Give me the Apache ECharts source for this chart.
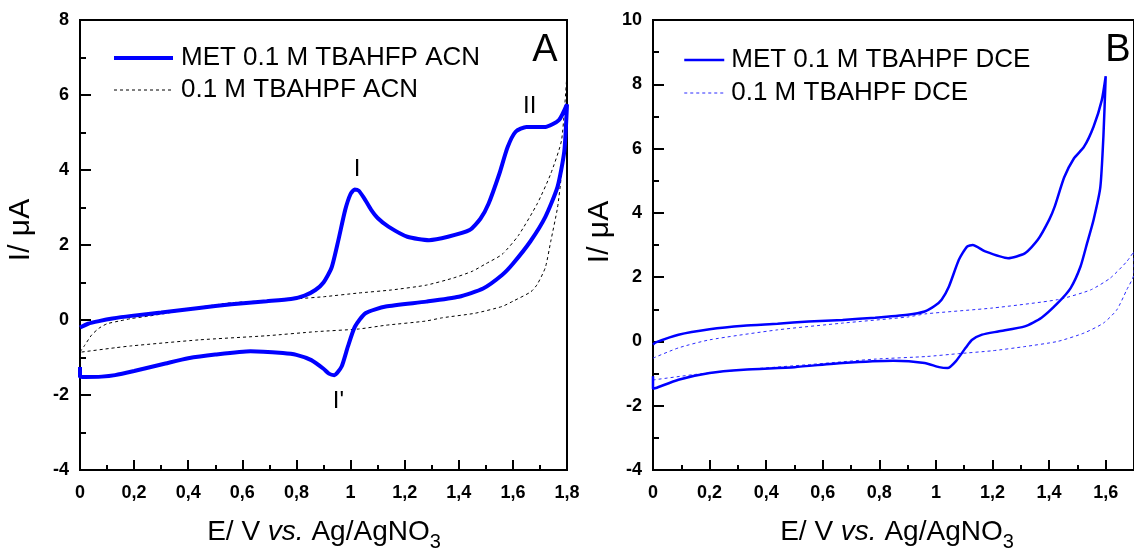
<!DOCTYPE html>
<html><head><meta charset="utf-8">
<script src="https://cdn.jsdelivr.net/npm/echarts@6/dist/echarts.min.js"></script>
<style>html,body{margin:0;padding:0;background:#fff}#c{width:1134px;height:548px}</style>
</head><body><div id="c"></div>
<script>
// ---- data (E / V, I / µA) ----
const metAcn = [[0,-0.2],[0.03,-0.1],[0.07,-0.03],[0.12,0.04],[0.19,0.11],[0.3,0.2],[0.44,0.32],[0.56,0.42],[0.69,0.5],[0.78,0.56],[0.83,0.65],[0.87,0.8],[0.9,1.0],[0.93,1.4],[0.955,2.13],[0.98,2.93],[1.0,3.36],[1.015,3.48],[1.03,3.45],[1.05,3.25],[1.075,2.95],[1.1,2.72],[1.14,2.49],[1.21,2.22],[1.29,2.13],[1.36,2.22],[1.44,2.4],[1.48,2.7],[1.51,3.1],[1.55,3.9],[1.58,4.6],[1.61,5.02],[1.65,5.15],[1.72,5.15],[1.77,5.33],[1.8,5.75],
  [1.79,4.5],[1.765,3.55],[1.72,2.75],[1.665,2.1],[1.6,1.5],[1.56,1.2],[1.49,0.84],[1.4,0.62],[1.28,0.49],[1.13,0.36],[1.055,0.18],[1.016,-0.18],[0.99,-0.71],[0.967,-1.24],[0.94,-1.47],[0.92,-1.43],[0.9,-1.3],[0.855,-1.07],[0.8,-0.93],[0.75,-0.88],[0.63,-0.83],[0.5,-0.92],[0.4,-1.02],[0.316,-1.16],[0.2,-1.36],[0.13,-1.47],[0.08,-1.51],[0.02,-1.52],[0,-1.51],[0,-1.25]];
const blankAcn = [[0,-0.85],[0.015,-0.7],[0.043,-0.4],[0.07,-0.22],[0.1,-0.1],[0.15,-0.02],[0.19,0.04],[0.25,0.1],[0.32,0.18],[0.44,0.34],[0.56,0.46],[0.7,0.52],[0.81,0.57],[0.9,0.62],[1.03,0.72],[1.15,0.8],[1.28,0.93],[1.38,1.12],[1.45,1.3],[1.5,1.5],[1.56,1.75],[1.62,2.25],[1.69,3.1],[1.74,3.9],[1.78,4.8],[1.8,6.6],
  [1.795,5.0],[1.78,3.9],[1.765,3.0],[1.74,2.1],[1.72,1.4],[1.69,0.95],[1.666,0.75],[1.6,0.5],[1.56,0.36],[1.46,0.18],[1.34,0.06],[1.276,-0.03],[1.13,-0.14],[1.03,-0.24],[0.874,-0.31],[0.69,-0.42],[0.44,-0.53],[0.19,-0.69],[0.13,-0.74],[0,-0.86]];
const metDce = [[0,-0.1],[0.01,-0.03],[0.09,0.21],[0.2,0.38],[0.32,0.49],[0.44,0.55],[0.55,0.62],[0.67,0.67],[0.785,0.74],[0.9,0.83],[0.96,0.93],[0.995,1.1],[1.02,1.3],[1.046,1.71],[1.081,2.54],[1.11,2.95],[1.13,3.0],[1.174,2.8],[1.255,2.59],[1.314,2.74],[1.36,3.16],[1.4,3.78],[1.42,4.2],[1.453,5.1],[1.488,5.7],[1.523,6.05],[1.557,6.68],[1.586,7.5],[1.6,8.25],
  [1.592,6.4],[1.581,4.8],[1.557,3.78],[1.534,3.05],[1.511,2.33],[1.476,1.66],[1.43,1.19],[1.372,0.73],[1.314,0.47],[1.22,0.31],[1.163,0.21],[1.128,0.05],[1.105,-0.2],[1.07,-0.62],[1.041,-0.83],[1.011,-0.8],[0.96,-0.67],[0.85,-0.6],[0.67,-0.67],[0.5,-0.8],[0.32,-0.88],[0.2,-0.98],[0.09,-1.19],[0.01,-1.45],[0,-1.47],[0,-1.08]];
const blankDce = [[0,-0.52],[0.09,-0.2],[0.2,0.05],[0.44,0.36],[0.67,0.57],[0.9,0.76],[0.965,0.86],[1.2,1.04],[1.43,1.3],[1.546,1.6],[1.616,1.97],[1.674,2.48],[1.7,2.8],
  [1.7,2.1],[1.674,1.6],[1.639,0.98],[1.592,0.57],[1.523,0.26],[1.43,0.0],[1.314,-0.16],[1.2,-0.29],[1.08,-0.38],[0.965,-0.47],[0.785,-0.55],[0.553,-0.72],[0.32,-0.88],[0.146,-1.03],[0,-1.2]];
const seriesNames = ['MET 0.1 M TBAHFP ACN','0.1 M TBAHPF ACN','MET 0.1 M TBAHPF DCE','0.1 M TBAHPF DCE'];
const peakLabels = [{t:'I',at:[1.024,4.03]},{t:'II',at:[1.662,5.71]},{t:"I'",at:[0.955,-2.16]}];

const FF = "'Liberation Sans', Arial, sans-serif";
const chart = echarts.init(document.getElementById('c'));
const fmtX = v => String(Math.round(v*10)/10).replace('.', ',');
function xAxis(gi, max, hideMax){
  return {type:'value', gridIndex:gi, min:0, max:max, interval:0.2,
    axisLine:{onZero:false, lineStyle:{color:'#000', width:2}},
    axisTick:{inside:true, length:10, lineStyle:{width:2, color:'#000'}},
    minorTick:{show:true, splitNumber:2, length:5, lineStyle:{width:2, color:'#000'}},
    splitLine:{show:false},
    axisLabel:{formatter:fmtX, margin:14, color:'#000', fontSize:18, fontWeight:'bold', fontFamily:FF, showMaxLabel: !hideMax}};
}
function yAxis(gi, min, max){
  return {type:'value', gridIndex:gi, min:min, max:max, interval:2,
    axisLine:{show:true, onZero:false, lineStyle:{color:'#000', width:2}},
    axisTick:{show:true, inside:true, length:11, lineStyle:{width:2, color:'#000'}},
    minorTick:{show:true, splitNumber:2, length:6, lineStyle:{width:2, color:'#000'}},
    splitLine:{show:false},
    axisLabel:{margin:11, color:'#000', fontSize:18, fontWeight:'bold', fontFamily:FF}};
}
const richX = {
  n:{fontSize:28, fontFamily:FF, fill:'#000', lineHeight:40},
  i:{fontSize:28, fontFamily:FF, fontStyle:'italic', fill:'#000', lineHeight:40},
  s:{fontSize:20, fontFamily:FF, fill:'#000', verticalAlign:'bottom', lineHeight:20}
};
const xTitle = '{n|E/ V }{i|vs.}{n| Ag/AgNO}{s|3}';
function txt(x, y, text, size, rot){
  return {type:'text', x:x, y:y, rotation:rot||0, silent:true,
    style:{text:text, fontSize:size, fontFamily:FF, fill:'#000', align:'center', verticalAlign:'middle'}};
}
const legendCommon = {orient:'vertical', itemHeight:14, selectedMode:false,
  itemStyle:{opacity:0, borderWidth:0}, lineStyle:{width:'inherit', type:'inherit'}};
const option = {
  animation:false,
  backgroundColor:'#fff',
  grid:[
    {left:80, top:20, width:487, height:450, show:true, borderColor:'#000', borderWidth:2, backgroundColor:'transparent'},
    {left:653, top:20, width:488, height:450, show:true, borderColor:'#000', borderWidth:2, backgroundColor:'transparent'}
  ],
  xAxis:[xAxis(0,1.8,false), xAxis(1,1.7,true)],
  yAxis:[yAxis(0,-4,8), yAxis(1,-4,10)],
  legend:[
    Object.assign({data:[seriesNames[0], seriesNames[1]], left:107, top:40, itemWidth:59, itemGap:6,
      textStyle:{fontSize:26, fontFamily:FF, color:'#000', padding:[0,0,0,3]}}, legendCommon),
    Object.assign({data:[seriesNames[2], seriesNames[3]], left:678, top:42, itemWidth:40, itemGap:7,
      textStyle:{fontSize:26, fontFamily:FF, color:'#000', padding:[0,0,0,2]}}, legendCommon)
  ],
  series:[
    {type:'line', name:seriesNames[1], xAxisIndex:0, yAxisIndex:0, data:blankAcn, symbol:'none', smooth:0.2,
      color:'#000', lineStyle:{color:'#000', width:1, type:[3,3]}},
    {type:'line', name:seriesNames[0], xAxisIndex:0, yAxisIndex:0, data:metAcn, symbol:'none', smooth:0.2,
      color:'#0000ff', lineStyle:{color:'#0000ff', width:4}},
    {type:'line', name:seriesNames[3], xAxisIndex:1, yAxisIndex:1, data:blankDce, symbol:'none', smooth:0.2,
      color:'#2a2aff', lineStyle:{color:'#2a2aff', width:1, type:[3,3]}},
    {type:'line', name:seriesNames[2], xAxisIndex:1, yAxisIndex:1, data:metDce, symbol:'none', smooth:0.2,
      color:'#0000ff', lineStyle:{color:'#0000ff', width:2.5}}
  ]
};
chart.setOption(option);
const g = [
  txt(21, 230, 'I/ \u03bcA', 30, Math.PI/2),
  txt(600, 232, 'I/ \u03bcA', 30, Math.PI/2),
  {type:'text', x:324, y:532, silent:true, style:{text:xTitle, rich:richX, align:'center', verticalAlign:'middle', fontSize:28, fontFamily:FF}},
  {type:'text', x:897, y:532, silent:true, style:{text:xTitle, rich:richX, align:'center', verticalAlign:'middle', fontSize:28, fontFamily:FF}},
  txt(545, 51, 'A', 38),
  txt(1118, 51, 'B', 38)
];
peakLabels.forEach(p => {
  const px = chart.convertToPixel({gridIndex:0}, p.at);
  g.push(txt(px[0], px[1], p.t, 24));
});
chart.setOption({graphic:g});
</script></body></html>
